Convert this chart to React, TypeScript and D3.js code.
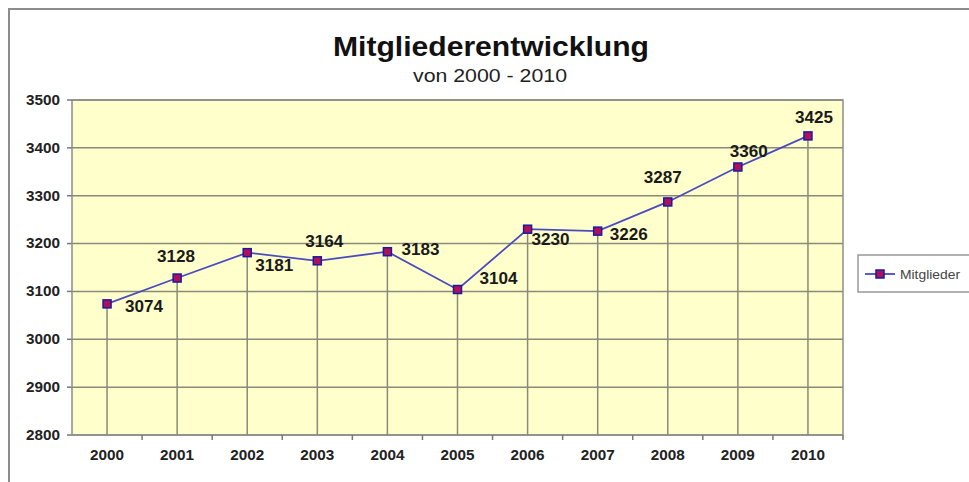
import React from "react";
import { scaleBand, scaleLinear, line } from "d3";

// data
const years = ["2000", "2001", "2002", "2003", "2004", "2005", "2006", "2007", "2008", "2009", "2010"];
const members = [3074, 3128, 3181, 3164, 3183, 3104, 3230, 3226, 3287, 3360, 3425];
const yTicks = [2800, 2900, 3000, 3100, 3200, 3300, 3400, 3500];
const seriesName = "Mitglieder";

// where each value label sits relative to its point (centre dx, baseline dy)
const labelNudge = [
    [37, 8], [-1, -16], [27, 18], [7, -14], [33, 3], [41, -6],
    [23, 16], [31, 9], [-5, -19], [11, -10], [6, -13],
];

const W = 969;
const H = 482;
const font = '"Liberation Sans", Arial, sans-serif';
const plot = { left: 72, top: 100, right: 843, bottom: 435 };

export default function App() {
    const x = scaleBand().domain(years).range([plot.left, plot.right]);
    const y = scaleLinear().domain([2800, 3500]).range([plot.bottom, plot.top]);
    const cx = (d: string) => (x(d) as number) + x.bandwidth() / 2;

    const path = line<number>()
        .x((_, i) => cx(years[i]))
        .y(d => y(d))(members);

    const grid = "#8a8a78";

    return (
        <svg
            width={W}
            height={H}
            style={{ position: "absolute", left: 0, top: 0, background: "#fff" }}
            fontFamily={font}
        >
            {/* outer chart frame */}
            <rect x={9} y={9} width={W + 20} height={H + 20} fill="#fff" stroke="#8c8c8c" strokeWidth={2} />

            <text x={491} y={56} textAnchor="middle" fontSize={28} fontWeight="bold" fill="#111"
                textLength={316} lengthAdjust="spacingAndGlyphs">
                Mitgliederentwicklung
            </text>
            <text x={490} y={82} textAnchor="middle" fontSize={19} fill="#222"
                textLength={154} lengthAdjust="spacingAndGlyphs">
                von 2000 - 2010
            </text>

            {/* plot area */}
            <rect
                x={plot.left}
                y={plot.top}
                width={plot.right - plot.left}
                height={plot.bottom - plot.top}
                fill="#FFFFCC"
            />
            {yTicks.map(t => (
                <g key={t}>
                    <line x1={plot.left} x2={plot.right} y1={y(t)} y2={y(t)} stroke={grid} strokeWidth={1.5} />
                    <line x1={plot.left - 5} x2={plot.left} y1={y(t)} y2={y(t)} stroke="#777" strokeWidth={1.5} />
                    <text x={60} y={y(t)} dy="0.35em" textAnchor="end" fontSize={14} fontWeight="bold" fill="#222"
                        textLength={34} lengthAdjust="spacingAndGlyphs">
                        {t}
                    </text>
                </g>
            ))}
            <rect
                x={plot.left}
                y={plot.top}
                width={plot.right - plot.left}
                height={plot.bottom - plot.top}
                fill="none"
                stroke="#8c8c8c"
                strokeWidth={1.5}
            />

            {/* x axis ticks and labels */}
            {years.map(d => (
                <g key={d}>
                    <line
                        x1={(x(d) as number) + x.bandwidth()}
                        x2={(x(d) as number) + x.bandwidth()}
                        y1={plot.bottom}
                        y2={plot.bottom + 5}
                        stroke="#777"
                        strokeWidth={1.5}
                    />
                    <text x={cx(d)} y={460} textAnchor="middle" fontSize={14} fontWeight="bold" fill="#222"
                        textLength={34} lengthAdjust="spacingAndGlyphs">
                        {d}
                    </text>
                </g>
            ))}

            {/* drop lines */}
            {members.map((v, i) => (
                <line
                    key={i}
                    x1={cx(years[i])}
                    x2={cx(years[i])}
                    y1={plot.bottom}
                    y2={y(v)}
                    stroke={grid}
                    strokeWidth={1.5}
                />
            ))}

            <path d={path || ""} fill="none" stroke="#4b4bc0" strokeWidth={1.8} />

            {members.map((v, i) => (
                <rect
                    key={i}
                    x={cx(years[i]) - 4}
                    y={y(v) - 4}
                    width={8}
                    height={8}
                    fill="#b0105a"
                    stroke="#1a1aa0"
                    strokeWidth={1.5}
                />
            ))}

            {members.map((v, i) => (
                <text
                    key={i}
                    x={cx(years[i]) + labelNudge[i][0]}
                    y={y(v) + labelNudge[i][1]}
                    textAnchor="middle"
                    fontSize={16}
                    fontWeight="bold"
                    fill="#1a1a1a"
                    textLength={38}
                    lengthAdjust="spacingAndGlyphs"
                >
                    {v}
                </text>
            ))}

            {/* legend */}
            <rect x={858} y={255} width={120} height={37} fill="#fff" stroke="#999" strokeWidth={1.5} />
            <line x1={865} x2={895} y1={274} y2={274} stroke="#4b4bc0" strokeWidth={1.8} />
            <rect x={876} y={270} width={8} height={8} fill="#b0105a" stroke="#1a1aa0" strokeWidth={1.5} />
            <text x={900} y={274} dy="0.35em" fontSize={13} fill="#444"
                textLength={60} lengthAdjust="spacingAndGlyphs">
                {seriesName}
            </text>
        </svg>
    );
}
